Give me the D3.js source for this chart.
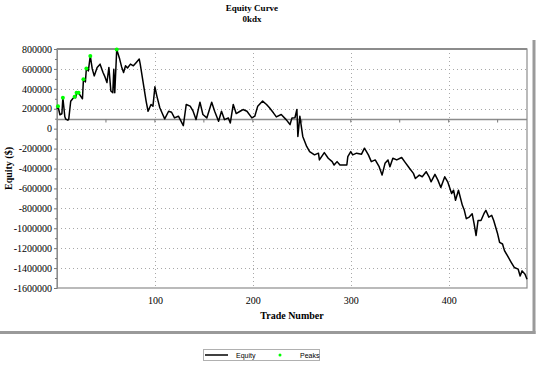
<!DOCTYPE html>
<html>
<head>
<meta charset="utf-8">
<script src="https://cdn.jsdelivr.net/npm/d3@7"></script>
<style>
  body { margin: 0; background: #fff; }
  svg { display: block; }
</style>
</head>
<body>
<div id="chart"></div>
<script>
// Equity curve, values (trade number / equity in $)
const trades = [0, 1, 3, 5, 6, 8, 9, 11, 12, 14, 16, 18, 19, 20, 22, 24, 26, 27, 29, 30,
  32, 34, 36, 38, 41, 44, 47, 49, 51, 53, 55, 57, 58, 59, 61, 64, 66, 68, 70, 72,
  75, 78, 81, 84, 85, 88, 91, 93, 96, 98, 100, 102, 105, 108, 110, 114, 117, 120, 124, 129,
  132, 136, 139, 142, 146, 149, 153, 158, 161, 165, 168, 171, 175, 177, 180, 183, 187, 190, 194, 199,
  202, 205, 210, 214, 217, 221, 224, 229, 234, 238, 240, 243, 245, 246, 248, 250, 251, 255, 258, 263,
  267, 268, 273, 277, 281, 283, 286, 289, 296, 297, 300, 302, 306, 311, 314, 318, 321, 325, 329, 332,
  335, 338, 340, 343, 347, 352, 355, 360, 364, 366, 370, 373, 377, 380, 382, 386, 389, 392, 396, 399,
  403, 405, 407, 410, 414, 416, 418, 421, 424, 426, 428, 430, 433, 436, 438, 441, 444, 446, 449, 450,
  452, 455, 457, 460, 464, 467, 471, 473, 475, 478, 480];
const equity = [200000, 225000, 140000, 150000, 310000, 120000, 95000, 85000, 95000, 275000, 300000, 320000, 310000, 360000, 360000, 330000, 300000, 495000, 470000, 605000,
  580000, 730000, 600000, 530000, 615000, 648000, 564000, 520000, 463000, 615000, 378000, 361000, 597000, 360000, 795000, 699000, 620000, 564000, 631000, 610000,
  648000, 631000, 665000, 699000, 648000, 463000, 277000, 175000, 243000, 226000, 420000, 327000, 210000, 142000, 98000, 175000, 165000, 108000, 125000, 30000,
  243000, 226000, 175000, 91000, 266000, 142000, 108000, 266000, 175000, 74000, 175000, 91000, 108000, 57000, 243000, 152000, 175000, 192000, 175000, 108000,
  125000, 226000, 277000, 243000, 210000, 159000, 118000, 142000, 91000, 41000, 108000, 110000, 192000, -78000, 125000, -10000, -78000, -179000, -230000, -263000,
  -246000, -314000, -240000, -297000, -331000, -365000, -331000, -365000, -365000, -280000, -230000, -263000, -246000, -256000, -196000, -263000, -331000, -314000, -382000, -466000,
  -348000, -314000, -382000, -297000, -314000, -290000, -331000, -398000, -449000, -500000, -466000, -483000, -432000, -483000, -534000, -459000, -517000, -591000, -483000, -534000,
  -651000, -618000, -719000, -618000, -770000, -820000, -904000, -888000, -854000, -955000, -1073000, -922000, -922000, -854000, -820000, -888000, -871000, -922000, -1023000, -1056000,
  -1141000, -1158000, -1225000, -1276000, -1344000, -1394000, -1411000, -1479000, -1428000, -1462000, -1512000];

// new equity highs
const peakTrades = [1, 6, 18, 20, 22, 27, 30, 34, 61];
const peakEquity = [225000, 310000, 320000, 360000, 360000, 495000, 605000, 730000, 795000];

const yTicks = [800000, 600000, 400000, 200000, 0, -200000, -400000, -600000, -800000,
  -1000000, -1200000, -1400000, -1600000];
const xTicks = [100, 200, 300, 400];
const baseEquity = 100000;

const width = 542, height = 368;
const margin = { top: 49, right: 15, bottom: 80, left: 57 };

const svg = d3.select("#chart").append("svg")
  .attr("width", width)
  .attr("height", height);

const x = d3.scaleLinear().domain([0, 480]).range([margin.left, width - margin.right]);
const y = d3.scaleLinear().domain([-1600000, 800000]).range([height - margin.bottom, margin.top]);

const serif = "'Liberation Serif', 'Times New Roman', serif";
const sans = "'Liberation Sans', Arial, sans-serif";

// panel shadow frame
svg.append("line")
  .attr("x1", 534).attr("x2", 534).attr("y1", 40).attr("y2", 334)
  .style("stroke", "#9a9a9a").style("stroke-width", 3);
svg.append("line")
  .attr("x1", 0).attr("x2", 535.5).attr("y1", 332.5).attr("y2", 332.5)
  .style("stroke", "#9a9a9a").style("stroke-width", 3);

// titles
svg.append("text")
  .attr("x", 252).attr("y", 11)
  .attr("text-anchor", "middle")
  .style("font-family", serif).style("font-size", "9px").style("font-weight", "bold")
  .text("Equity Curve");
svg.append("text")
  .attr("x", 252).attr("y", 22)
  .attr("text-anchor", "middle")
  .style("font-family", serif).style("font-size", "9px").style("font-weight", "bold")
  .text("0kdx");

// dotted grid
const grid = svg.append("g");
grid.selectAll(".hgrid")
  .data(yTicks.filter(d => d > -1600000 && d < 800000))
  .enter().append("line")
  .attr("x1", x(0)).attr("x2", x(480))
  .attr("y1", d => Math.round(y(d)) + 0.5).attr("y2", d => Math.round(y(d)) + 0.5)
  .style("stroke", "#a8a8a8").style("stroke-dasharray", "1,3");
grid.selectAll(".vgrid")
  .data(xTicks)
  .enter().append("line")
  .attr("y1", y(800000)).attr("y2", y(-1600000))
  .attr("x1", d => Math.round(x(d)) + 0.5).attr("x2", d => Math.round(x(d)) + 0.5)
  .style("stroke", "#a8a8a8").style("stroke-dasharray", "1,3");

// plot frame
svg.append("rect")
  .attr("x", x(0)).attr("y", y(800000))
  .attr("width", x(480) - x(0)).attr("height", y(-1600000) - y(800000))
  .style("fill", "none").style("stroke", "#8c8c8c").style("stroke-width", 1.2);
svg.append("line")
  .attr("x1", x(0)).attr("x2", x(480)).attr("y1", y(800000)).attr("y2", y(800000))
  .style("stroke", "#8c8c8c").style("stroke-width", 2);

// baseline axis at starting equity
const yb = Math.round(y(baseEquity)) + 0.5;
svg.append("line")
  .attr("x1", x(0)).attr("x2", x(480)).attr("y1", yb).attr("y2", yb)
  .style("stroke", "#8c8c8c").style("stroke-width", 1.5);
svg.selectAll(".btick")
  .data(d3.range(50, 480, 50))
  .enter().append("line")
  .attr("x1", d => x(d)).attr("x2", d => x(d))
  .attr("y1", yb).attr("y2", yb + 3)
  .style("stroke", "#777");

// y axis
const yAxis = svg.append("g")
  .attr("transform", `translate(${x(0)},0)`)
  .call(d3.axisLeft(y).tickValues(yTicks).tickSize(3).tickPadding(2).tickFormat(d => String(d)));
svg.append("g")
  .attr("transform", `translate(${x(0)},0)`)
  .call(d3.axisLeft(y).tickValues(d3.range(-1500000, 800000, 200000)).tickSize(2).tickFormat(""))
  .call(g => g.select(".domain").remove());
yAxis.select(".domain").style("stroke", "#8c8c8c");
svg.selectAll(".tick line").style("stroke", "#777");
yAxis.selectAll("text")
  .style("font-family", serif).style("font-size", "10px").style("fill", "#000");

// x axis labels
const xAxis = svg.append("g")
  .attr("transform", `translate(0,${y(-1600000)})`)
  .call(d3.axisBottom(x).tickValues(xTicks).tickSize(0).tickPadding(9));
xAxis.select(".domain").remove();
xAxis.selectAll("text")
  .style("font-family", serif).style("font-size", "10px").style("fill", "#000");

// axis titles
svg.append("text")
  .attr("x", (x(0) + x(480)) / 2).attr("y", 319)
  .attr("text-anchor", "middle")
  .style("font-family", serif).style("font-size", "10px").style("font-weight", "bold")
  .text("Trade Number");
svg.append("text")
  .attr("transform", `translate(12,${(y(800000) + y(-1600000)) / 2}) rotate(-90)`)
  .attr("text-anchor", "middle")
  .style("font-family", serif).style("font-size", "10px").style("font-weight", "bold")
  .text("Equity ($)");

// equity line
const line = d3.line()
  .x((d, i) => x(trades[i]))
  .y(d => y(d));
svg.append("path")
  .datum(equity)
  .attr("d", line)
  .style("fill", "none").style("stroke", "#000").style("stroke-width", 1.5)
  .style("stroke-linejoin", "round");

// peaks
svg.selectAll(".peak")
  .data(peakTrades)
  .enter().append("circle")
  .attr("cx", d => x(d))
  .attr("cy", (d, i) => y(peakEquity[i]))
  .attr("r", 2)
  .style("fill", "#00ff00");

// legend
const legend = svg.append("g");
legend.append("rect")
  .attr("x", 203.5).attr("y", 349.5).attr("width", 116).attr("height", 11)
  .style("fill", "#fff").style("stroke", "#b0b0b0");
legend.append("line")
  .attr("x1", 205).attr("x2", 228).attr("y1", 355).attr("y2", 355)
  .style("stroke", "#000").style("stroke-width", 1.5);
legend.append("text")
  .attr("x", 236).attr("y", 357.5)
  .style("font-family", sans).style("font-size", "7px")
  .text("Equity");
legend.append("circle")
  .attr("cx", 280).attr("cy", 355).attr("r", 1.5)
  .style("fill", "#00ff00");
legend.append("text")
  .attr("x", 300).attr("y", 357.5)
  .style("font-family", sans).style("font-size", "7px")
  .text("Peaks");
</script>
</body>
</html>
